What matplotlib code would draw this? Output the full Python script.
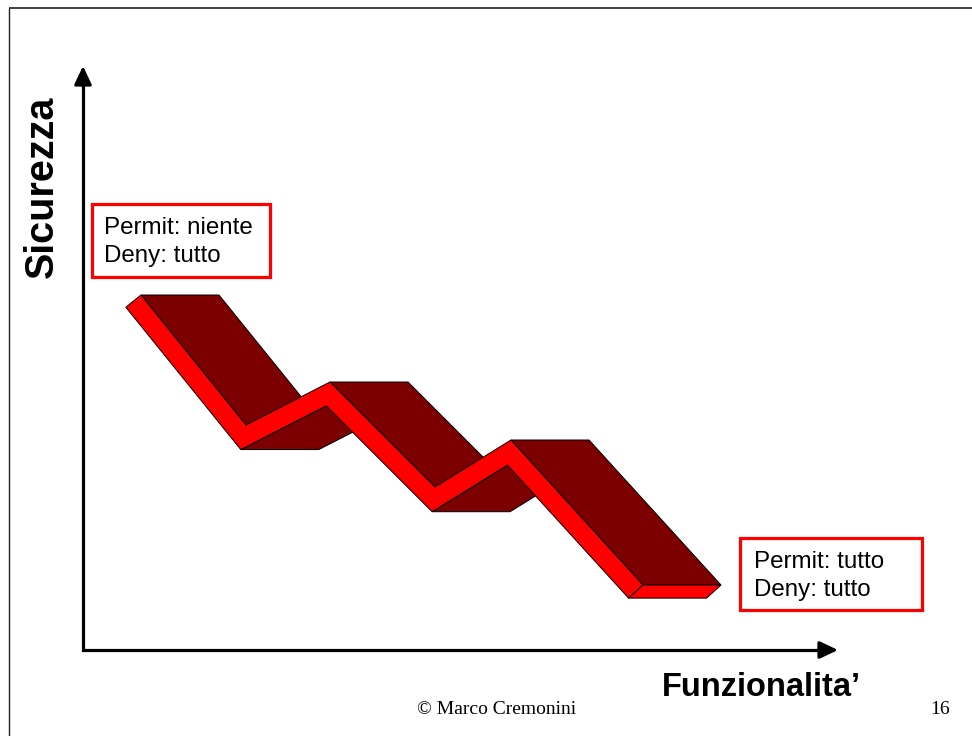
import numpy as np
import matplotlib
matplotlib.use("Agg")
import matplotlib.pyplot as plt
from matplotlib.patches import Polygon, Rectangle

# Trade-off path: upper edge of the ribbon (functionality -> security)
func_pts = [141, 246, 330, 435, 511, 643]
sec_pts = [441, 311, 354, 249, 296, 151]

# Ribbon look
thickness = 19.5          # front band width
depth = np.array([78.0, 0.0])  # extrusion vector
front_color = "#FF0000"
side_color = "#7D0000"

# Axes of the diagram
origin = (83, 86)
x_end = 838
y_end = 670

box_texts = ["Permit: niente\nDeny: tutto", "Permit: tutto\nDeny: tutto"]
box_rects = [(92, 459, 178, 73), (740, 126, 182, 72)]
box_text_pos = [(104, 494), (754, 160)]

fig = plt.figure(figsize=(9.72, 7.36), dpi=100)
ax = fig.add_axes([0, 0, 1, 1])
ax.set_xlim(0, 972)
ax.set_ylim(0, 736)
ax.axis("off")

# slide frame (top and left edges)
ax.plot([9, 972], [728, 728], color="#222222", lw=1.2, solid_capstyle="butt")
ax.plot([9, 9], [0, 728], color="#222222", lw=1.0, solid_capstyle="butt")

# ---- ribbon geometry ----
P = np.column_stack([func_pts, sec_pts]).astype(float)
d = np.diff(P, axis=0)
u = d / np.linalg.norm(d, axis=1)[:, None]
n = np.column_stack([u[:, 1], -u[:, 0]])
Q = np.empty_like(P)
Q[0] = P[0] + thickness * n[0]
Q[-1] = P[-1] + thickness * n[-1]
for i in range(1, len(P) - 1):
    m = n[i - 1] + n[i]
    Q[i] = P[i] + thickness * m / (1.0 + np.dot(n[i - 1], n[i]))

z = 2
for i in range(len(d)):
    if d[i, 1] < 0:
        a, b = P[i], P[i + 1]
    else:
        a, b = Q[i], Q[i + 1]
    face = np.array([a, b, b + depth, a + depth])
    ax.add_patch(Polygon(face, closed=True, facecolor=side_color,
                         edgecolor="black", lw=0.7, joinstyle="miter", zorder=z))
    z += 1

band = np.vstack([P, Q[::-1]])
ax.add_patch(Polygon(band, closed=True, facecolor=front_color,
                     edgecolor="black", lw=0.7, joinstyle="miter", zorder=z))
cap = np.array([P[-1], Q[-1], Q[-1] + depth, P[-1] + depth])
ax.add_patch(Polygon(cap, closed=True, facecolor=front_color,
                     edgecolor="black", lw=0.7, joinstyle="miter", zorder=z + 1))

# ---- axes arrows ----
ax.plot([origin[0], origin[0], x_end - 10], [y_end - 10, origin[1], origin[1]],
        color="black", lw=2.3, solid_joinstyle="miter", solid_capstyle="butt", zorder=20)
arrow_kw = dict(arrowstyle="-|>,head_length=0.55,head_width=0.26", color="black",
                lw=2.3, shrinkA=0, shrinkB=0, mutation_scale=20)
ax.annotate("", xy=(x_end, origin[1]), xytext=(x_end - 20, origin[1]),
            arrowprops=arrow_kw, zorder=21)
ax.annotate("", xy=(origin[0], y_end), xytext=(origin[0], y_end - 20),
            arrowprops=arrow_kw, zorder=21)

# ---- axis titles ----
ax.text(42, 549, "Sicurezza", rotation=90, ha="center", va="center",
        fontsize=28.5, fontweight="bold", family="Liberation Sans")
ax.text(662, 48, "Funzionalita\u2019", ha="left", va="center",
        fontsize=23.5, fontweight="bold", family="Liberation Sans")

# ---- boxes ----
for txt, (bx, by, bw, bh), (tx, ty) in zip(box_texts, box_rects, box_text_pos):
    ax.add_patch(Rectangle((bx, by), bw, bh, facecolor="white",
                           edgecolor="#FF0000", lw=2.3, zorder=25))
    ax.text(tx, ty, txt, ha="left", va="center", fontsize=17.4,
            family="Liberation Sans", linespacing=1.38, zorder=26)

# ---- footer ----
ax.text(497, 26, "\u00a9 Marco Cremonini", ha="center", va="center",
        fontsize=14, family="Liberation Serif")
ax.text(940, 26, "16", ha="center", va="center", fontsize=14,
        family="Liberation Serif")

fig.savefig("out.png", dpi=100)
